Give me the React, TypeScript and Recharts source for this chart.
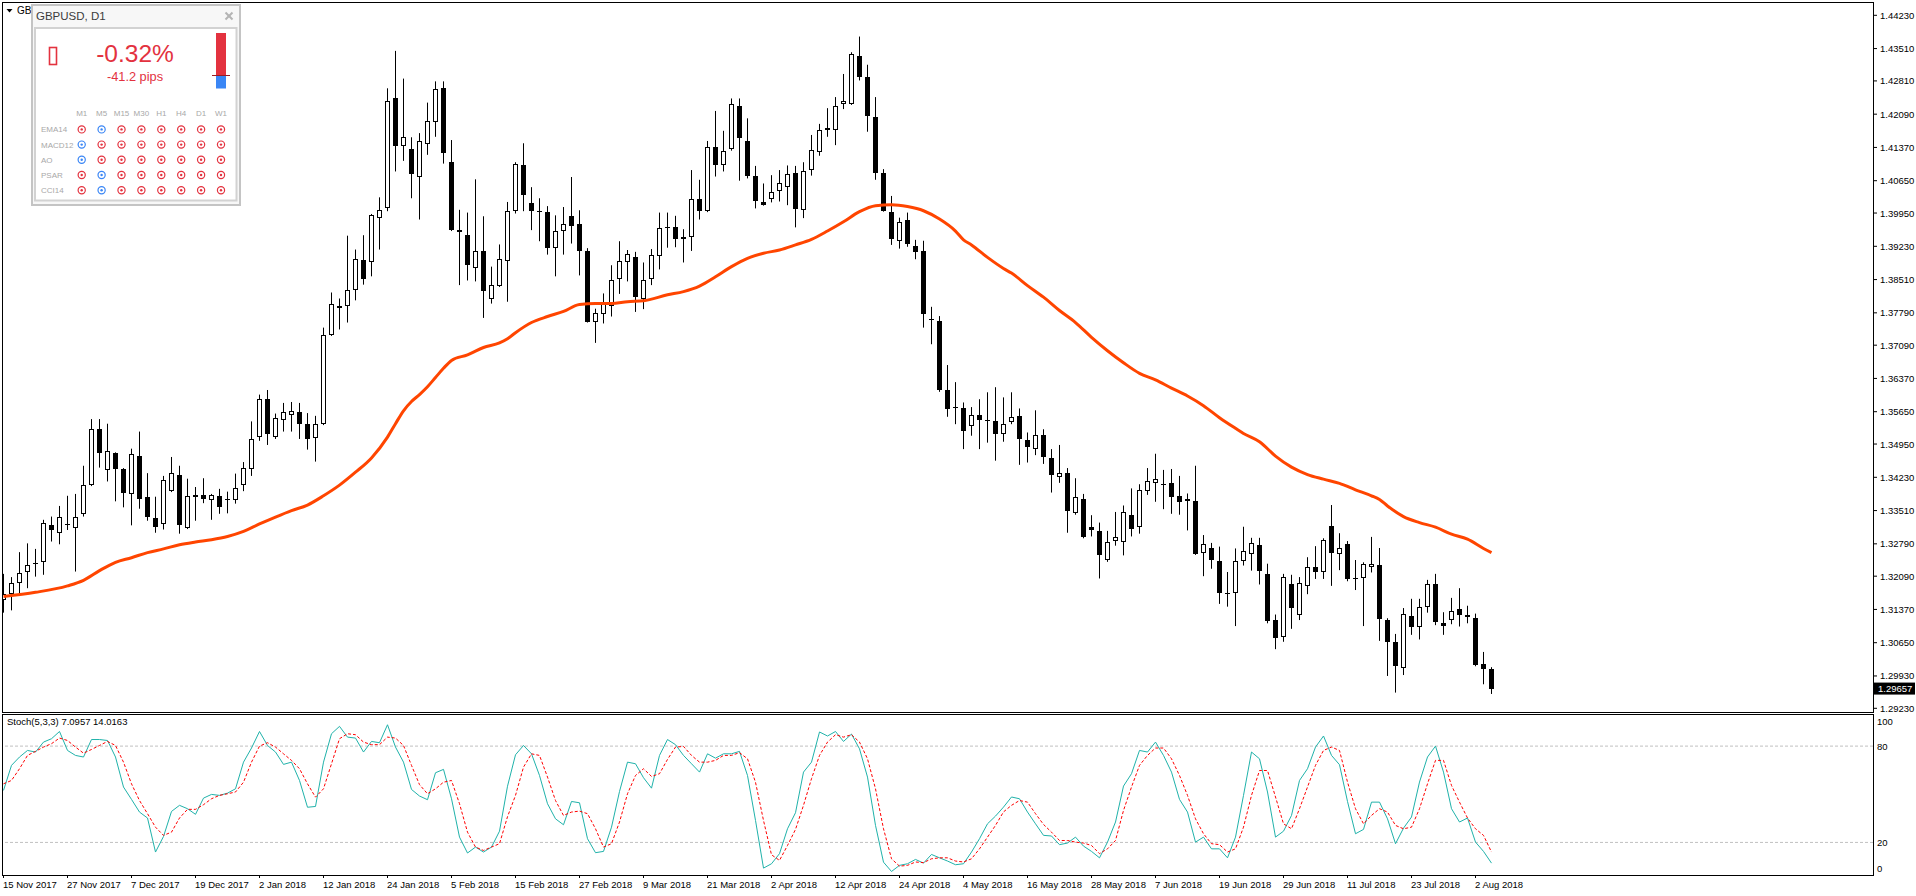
import React from "react";
import {
  ComposedChart,
  LineChart,
  Bar,
  Line,
  XAxis,
  YAxis,
  ReferenceLine,
} from "recharts";

const W = 1916;
const FONT = "Tahoma, 'Liberation Sans', Arial, sans-serif";
const X_MIN = -0.1875;
const X_MAX = 233.6875;

/* ─── data ──────────────────────────────────────────────────── */

const dateLabels = [
  "15 Nov 2017", "27 Nov 2017", "7 Dec 2017", "19 Dec 2017", "2 Jan 2018",
  "12 Jan 2018", "24 Jan 2018", "5 Feb 2018", "15 Feb 2018", "27 Feb 2018",
  "9 Mar 2018", "21 Mar 2018", "2 Apr 2018", "12 Apr 2018", "24 Apr 2018",
  "4 May 2018", "16 May 2018", "28 May 2018", "7 Jun 2018", "19 Jun 2018",
  "29 Jun 2018", "11 Jul 2018", "23 Jul 2018", "2 Aug 2018",
];
const dateBars = dateLabels.map((_, k) => k * 8);

const opens = [
  1.3158, 1.3171, 1.3194, 1.3219, 1.3236, 1.3239, 1.3319, 1.3302, 1.3322, 1.3313,
  1.3344, 1.3406, 1.3527, 1.3439, 1.3475, 1.3441, 1.3387, 1.347, 1.3381, 1.3335,
  1.3322, 1.3393, 1.3428, 1.3313, 1.3384, 1.3384, 1.3374, 1.3382, 1.3376, 1.3374,
  1.3406, 1.3442, 1.3511, 1.3592, 1.3511, 1.3548, 1.3558, 1.3564, 1.3538, 1.3508,
  1.3538, 1.3731, 1.3793, 1.3794, 1.3829, 1.3893, 1.3889, 1.3984, 1.4005, 1.4243,
  1.4141, 1.4133, 1.4074, 1.4145, 1.4191, 1.4266, 1.4105, 1.3958, 1.3947, 1.3875,
  1.3913, 1.381, 1.3838, 1.3892, 1.3999, 1.4098, 1.4016, 1.4, 1.3997, 1.3919,
  1.3956, 1.3988, 1.3971, 1.3912, 1.376, 1.3777, 1.3793, 1.3852, 1.389, 1.3899,
  1.3808, 1.3852, 1.3903, 1.3965, 1.3964, 1.3939, 1.3943, 1.4025, 1.4, 1.4137,
  1.4098, 1.4133, 1.4227, 1.4151, 1.4075, 1.4018, 1.4025, 1.4043, 1.4052, 1.4081,
  1.4002, 1.4088, 1.4127, 1.4175, 1.4175, 1.4231, 1.4231, 1.4335, 1.4289, 1.4202,
  1.4081, 1.3997, 1.3935, 1.398, 1.3924, 1.3913, 1.3765, 1.3761, 1.3613, 1.3575,
  1.3572, 1.3533, 1.3557, 1.3546, 1.3544, 1.3516, 1.3542, 1.3556, 1.3504, 1.3484,
  1.3514, 1.3464, 1.3423, 1.3432, 1.3345, 1.3375, 1.3315, 1.3307, 1.3243, 1.3285,
  1.3284, 1.3341, 1.3316, 1.3393, 1.341, 1.3409, 1.341, 1.3382, 1.3372, 1.3372,
  1.326, 1.3269, 1.3242, 1.3173, 1.3172, 1.3242, 1.3256, 1.3277, 1.3214, 1.3114,
  1.3077, 1.3192, 1.3126, 1.3188, 1.3228, 1.3218, 1.3318, 1.3257, 1.3278, 1.3204,
  1.3204, 1.3228, 1.3233, 1.3114, 1.3066, 1.301, 1.3123, 1.3098, 1.3142, 1.3191,
  1.3107, 1.3114, 1.3137, 1.3121, 1.3119, 1.3019, 1.3008,
];

const highs = [
  1.3214, 1.3207, 1.3261, 1.328, 1.3268, 1.3331, 1.3338, 1.3361, 1.3383, 1.3387,
  1.3448, 1.3549, 1.3549, 1.3539, 1.3477, 1.3443, 1.3485, 1.3522, 1.3432, 1.3381,
  1.3426, 1.3467, 1.3448, 1.342, 1.3402, 1.3421, 1.3387, 1.3398, 1.3392, 1.3431,
  1.3456, 1.3544, 1.3602, 1.3612, 1.3561, 1.3584, 1.3586, 1.3584, 1.3562, 1.3556,
  1.3747, 1.3823, 1.381, 1.3946, 1.3916, 1.3947, 1.3993, 1.4029, 1.4265, 1.4346,
  1.4286, 1.4159, 1.4168, 1.4234, 1.428, 1.428, 1.4153, 1.4002, 1.3996, 1.4068,
  1.3988, 1.3879, 1.3927, 1.4019, 1.4105, 1.4146, 1.4051, 1.4027, 1.401, 1.399,
  1.4008, 1.4073, 1.4001, 1.3919, 1.3788, 1.3821, 1.3882, 1.3934, 1.3915, 1.3911,
  1.3888, 1.3917, 1.3996, 1.3996, 1.3989, 1.396, 1.4088, 1.4067, 1.4151, 1.4216,
  1.4173, 1.4243, 1.4243, 1.42, 1.4097, 1.4059, 1.4077, 1.4088, 1.4098, 1.4097,
  1.4105, 1.4164, 1.4188, 1.4222, 1.4246, 1.4296, 1.4343, 1.4377, 1.4316, 1.4246,
  1.409, 1.4032, 1.3985, 1.3996, 1.3937, 1.3935, 1.3792, 1.3772, 1.3666, 1.3629,
  1.3585, 1.3575, 1.3592, 1.3607, 1.3618, 1.3596, 1.3607, 1.3572, 1.352, 1.3568,
  1.3527, 1.3484, 1.3493, 1.3443, 1.3421, 1.3387, 1.3341, 1.3325, 1.3307, 1.3348,
  1.3362, 1.3399, 1.3408, 1.3443, 1.3474, 1.3439, 1.3441, 1.3426, 1.3388, 1.3448,
  1.3298, 1.3281, 1.3273, 1.3218, 1.3269, 1.3316, 1.3292, 1.3292, 1.3236, 1.3126,
  1.3214, 1.3212, 1.3207, 1.325, 1.3274, 1.3291, 1.3363, 1.3302, 1.3285, 1.3244,
  1.3239, 1.3294, 1.327, 1.3118, 1.3084, 1.314, 1.316, 1.316, 1.3201, 1.3214,
  1.3131, 1.3162, 1.3183, 1.3145, 1.3128, 1.3045, 1.3012,
];

const lows = [
  1.313, 1.3135, 1.3171, 1.3183, 1.3208, 1.3212, 1.3284, 1.3278, 1.3309, 1.3219,
  1.3338, 1.3404, 1.3444, 1.3414, 1.3371, 1.3358, 1.3319, 1.3355, 1.3329, 1.3303,
  1.331, 1.3391, 1.3301, 1.3311, 1.3329, 1.3367, 1.3331, 1.3344, 1.3345, 1.3366,
  1.3393, 1.3426, 1.3502, 1.3493, 1.3506, 1.3522, 1.3522, 1.3506, 1.3483, 1.3457,
  1.3536, 1.3729, 1.3743, 1.3758, 1.3806, 1.384, 1.3858, 1.3916, 1.3999, 1.4085,
  1.4108, 1.4027, 1.3981, 1.4121, 1.416, 1.4102, 1.3956, 1.3839, 1.3849, 1.3847,
  1.3768, 1.3799, 1.3835, 1.3803, 1.3994, 1.3999, 1.3958, 1.3934, 1.3905, 1.3858,
  1.3905, 1.3929, 1.386, 1.3758, 1.3714, 1.3756, 1.3771, 1.382, 1.3847, 1.3781,
  1.3787, 1.3839, 1.3873, 1.392, 1.3921, 1.3888, 1.3913, 1.3981, 1.3997, 1.4074,
  1.4085, 1.413, 1.4065, 1.407, 1.4005, 1.4011, 1.4018, 1.402, 1.4012, 1.3964,
  1.3984, 1.4076, 1.4119, 1.416, 1.4142, 1.422, 1.4229, 1.4282, 1.4171, 1.4067,
  1.3998, 1.3926, 1.3918, 1.3922, 1.3895, 1.3747, 1.3711, 1.3608, 1.3554, 1.3538,
  1.3484, 1.3513, 1.3484, 1.3498, 1.3459, 1.35, 1.3538, 1.345, 1.3455, 1.3471,
  1.3452, 1.339, 1.3411, 1.3303, 1.3342, 1.3291, 1.3295, 1.3204, 1.324, 1.3275,
  1.3254, 1.3295, 1.3301, 1.3385, 1.337, 1.3354, 1.3344, 1.3342, 1.3308, 1.3255,
  1.3209, 1.3225, 1.3149, 1.3143, 1.3101, 1.3232, 1.3221, 1.3191, 1.3107, 1.3051,
  1.3067, 1.3095, 1.3114, 1.317, 1.3203, 1.3203, 1.3188, 1.3222, 1.3198, 1.3179,
  1.3101, 1.3217, 1.3069, 1.2993, 1.2957, 1.2995, 1.3082, 1.3072, 1.313, 1.3103,
  1.3082, 1.3105, 1.31, 1.3107, 1.3014, 1.2975, 1.2954,
];

const closes = [
  1.3171, 1.3194, 1.3215, 1.3233, 1.3238, 1.3324, 1.3308, 1.3337, 1.3319, 1.3338,
  1.3406, 1.3527, 1.3475, 1.348, 1.3442, 1.339, 1.3473, 1.3377, 1.3338, 1.3316,
  1.3417, 1.3432, 1.3319, 1.3382, 1.3381, 1.3375, 1.3384, 1.3358, 1.3374, 1.34,
  1.3443, 1.3506, 1.3592, 1.3516, 1.3551, 1.3564, 1.3566, 1.3538, 1.3506, 1.3538,
  1.3731, 1.3799, 1.379, 1.3829, 1.3895, 1.3852, 1.399, 1.4001, 1.4237, 1.414,
  1.4159, 1.4079, 1.415, 1.4194, 1.4264, 1.4124, 1.3958, 1.3953, 1.3883, 1.3913,
  1.3826, 1.384, 1.3895, 1.3999, 1.4101, 1.4033, 1.3999, 1.3998, 1.3919, 1.3956,
  1.3971, 1.3968, 1.3913, 1.376, 1.3779, 1.38, 1.3851, 1.3892, 1.3907, 1.3814,
  1.385, 1.3904, 1.3962, 1.3963, 1.3938, 1.3943, 1.4025, 1.4, 1.4137, 1.41,
  1.413, 1.423, 1.4158, 1.4076, 1.402, 1.4013, 1.4041, 1.4059, 1.4079, 1.4003,
  1.4087, 1.4132, 1.4175, 1.4179, 1.4227, 1.4238, 1.4339, 1.429, 1.4204, 1.4081,
  1.4, 1.3938, 1.3976, 1.3929, 1.3911, 1.3776, 1.3764, 1.3612, 1.357, 1.3572,
  1.3524, 1.3557, 1.3546, 1.3544, 1.3516, 1.3538, 1.3554, 1.3506, 1.3489, 1.3514,
  1.3468, 1.3428, 1.3432, 1.3349, 1.338, 1.3293, 1.3308, 1.3254, 1.3282, 1.3293,
  1.3347, 1.3312, 1.3396, 1.3414, 1.3419, 1.3407, 1.3381, 1.337, 1.3376, 1.3257,
  1.3279, 1.3244, 1.3173, 1.3171, 1.3242, 1.3263, 1.328, 1.3221, 1.3113, 1.3076,
  1.3207, 1.3141, 1.3194, 1.3228, 1.3219, 1.3287, 1.3259, 1.3271, 1.3203, 1.3202,
  1.3235, 1.3235, 1.3116, 1.3067, 1.3015, 1.3127, 1.3098, 1.3143, 1.3191, 1.3109,
  1.3102, 1.3134, 1.3124, 1.3125, 1.3016, 1.3007, 1.29657,
];

// moving average, read at these bar positions
const maBars = [
  0, 4, 8, 10, 12, 14, 16, 18, 20, 22, 24, 26, 28, 30, 32, 34, 36, 38, 40, 42,
  44, 46, 48, 49, 50, 51, 52, 53, 54, 55, 56, 58, 60, 62, 63, 64, 66, 68, 70, 72,
  74, 76, 78, 80, 83, 85, 87, 89, 91, 93, 95, 97, 99, 101, 103, 105, 107, 109, 111, 113,
  115, 117, 119, 120, 121, 123, 125, 126, 128, 130, 132, 134, 136, 138, 140, 142, 144, 146, 148, 150,
  152, 154, 155, 157, 159, 161, 163, 165, 167, 169, 171, 172, 173, 175, 177, 179, 181, 183, 185, 186,
];
const maValues = [
  1.3165, 1.3174, 1.3188, 1.32, 1.3221, 1.3239, 1.3249, 1.326, 1.3268, 1.3277,
  1.3283, 1.3288, 1.3295, 1.3306, 1.3322, 1.3337, 1.3351, 1.3363, 1.3383, 1.3406,
  1.3434, 1.3465, 1.351, 1.3539, 1.3567, 1.3587, 1.3602, 1.3619, 1.3639, 1.3659,
  1.3676, 1.3688, 1.3704, 1.3714, 1.3723, 1.3736, 1.3758, 1.3771, 1.3782, 1.3797,
  1.3799, 1.3799, 1.3803, 1.3805, 1.3818, 1.3825, 1.3837, 1.3857, 1.3879, 1.3897,
  1.3908, 1.3915, 1.3926, 1.3938, 1.3956, 1.3976, 1.3998, 1.4011, 1.4013, 1.4009,
  1.4, 1.3982, 1.3956, 1.3937, 1.3926, 1.3899, 1.3875, 1.3865, 1.3838, 1.3813,
  1.3784, 1.3758, 1.3726, 1.3697, 1.3671, 1.3648, 1.3634, 1.3616, 1.3599, 1.3578,
  1.3552, 1.3529, 1.3518, 1.35, 1.3469, 1.3445, 1.3429, 1.3419, 1.341, 1.3396,
  1.3383, 1.3375, 1.3361, 1.3338, 1.3325, 1.3315, 1.33, 1.3289, 1.3269, 1.326,
];

const stochK = [
  52.4, 68, 73.2, 77.3, 76.3, 82.5, 84.6, 89.1, 77.3, 74.2,
  73.2, 84.1, 84.1, 83.5, 73.2, 54.5, 46.8, 38.9, 35.2, 14,
  23.7, 39.3, 43.1, 41, 37.5, 47.6, 49.9, 49.3, 50.7, 53.4,
  70, 78.8, 89.1, 80.4, 76.3, 68.6, 70, 58.6, 41.9, 42.4,
  70, 87.7, 92.3, 85.6, 85, 76.3, 82.9, 82.1, 93.3, 79.4,
  70, 53, 48.9, 46.6, 63.4, 65.5, 47.2, 23.3, 13.4, 17.1,
  14, 17.1, 27, 55, 74.6, 80.4, 75.2, 61.7, 44.1, 34.7,
  31, 45.5, 44.7, 22.3, 13.6, 14.4, 29.5, 51.7, 70, 69,
  60.3, 53.8, 74.2, 84.1, 80.9, 74.2, 69, 63.8, 75.2, 72.5,
  75.2, 75.2, 76.7, 61.7, 33.7, 4, 6.7, 13, 28.5, 38.5,
  63.8, 70, 88.8, 86.3, 89.1, 82.9, 87.5, 78.3, 60.7, 30.6,
  7.7, 1.9, 5.7, 6.7, 9.4, 7.1, 12.5, 10.4, 8.4, 6.1,
  6.7, 14, 22.3, 31.6, 36.4, 42, 48.3, 47.2, 38.9, 31.6,
  24.4, 24, 18.6, 19.6, 23.3, 17.7, 14.4, 10.4, 20.2, 32.7,
  55.1, 62.8, 77.3, 76.3, 82.5, 74.2, 63.8, 46.8, 38.9, 20.2,
  23.3, 16, 16, 10.4, 23.3, 49.3, 76.3, 72.1, 51.4, 23.3,
  27, 36.8, 58.6, 65.9, 79.4, 86.3, 74.2, 68.4, 45.5, 25.4,
  28.1, 45.1, 45.1, 34.7, 19.2, 28.9, 35.8, 57.6, 73.2, 80,
  63.8, 41, 32.7, 35.2, 20.2, 14.4, 7.0957,
];

const stochD = [
  56.5, 58.6, 65.9, 74.2, 76.7, 79.4, 81.5, 85, 83.5, 79.4,
  75.6, 77.9, 80.4, 82.9, 80.4, 70, 56.5, 46.1, 37.9, 29.5,
  24.4, 26.4, 35.2, 40.6, 40.6, 43.5, 47.2, 49.3, 50.3, 51.4,
  57.5, 70, 80, 82.1, 79.4, 75.2, 71.1, 65.9, 56.5, 48.2,
  53.4, 69, 84.6, 87.7, 87.1, 82.5, 80.9, 80.9, 85.6, 85,
  80.4, 68, 56, 50.3, 53.4, 57.5, 58.6, 44.1, 26.4, 17.1,
  15, 17.1, 19.2, 36, 49.3, 66.9, 75.2, 74.2, 60.7, 46.1,
  36.8, 38.9, 39.5, 37.9, 28.5, 17.1, 19.2, 32.7, 50.3, 61.7,
  65.9, 61.1, 62.8, 71.7, 79.4, 79.8, 74.2, 70, 70, 71.1,
  74.2, 74.2, 75.9, 72.1, 57.5, 33.7, 12.3, 8.8, 18.1, 28.1,
  43.1, 59.7, 74.2, 82.5, 87.1, 85.6, 87.1, 82.5, 72.1, 53.4,
  28.5, 9.8, 5.2, 5.7, 7.8, 7.4, 9.8, 10.4, 10.4, 8.4,
  7.8, 9.8, 16, 23.3, 30.6, 39, 43.1, 46.1, 45.1, 37.9,
  31.2, 26.4, 21.2, 21.2, 20.2, 19.6, 18.1, 13, 16, 21.2,
  39.9, 54.5, 68, 74.2, 78.8, 78.8, 72.1, 61.7, 49.3, 34.7,
  25.4, 19.2, 18.6, 14, 16, 29.5, 49.3, 64.8, 64.8, 48.3,
  31.6, 28.5, 41, 54.5, 68, 77.3, 79.4, 77.3, 57.6, 41,
  31.6, 36.8, 41, 38.9, 30.6, 28.5, 29.5, 41, 56.5, 71.1,
  71.1, 55.5, 45.1, 35.2, 28.5, 24.4, 14.0163,
];

const priceTicks = [
  1.4423, 1.4351, 1.4281, 1.4209, 1.4137, 1.4065, 1.3995, 1.3923, 1.3851, 1.3779,
  1.3709, 1.3637, 1.3565, 1.3495, 1.3423, 1.3351, 1.3279, 1.3209, 1.3137, 1.3065,
  1.2993, 1.2923,
];
const stochTicks = [100, 80, 20, 0];
const stochLevels = [80, 20];

const signalRows = ["EMA14", "MACD12", "AO", "PSAR", "CCI14"];
const signalCols = ["M1", "M5", "M15", "M30", "H1", "H4", "D1", "W1"];
// 1 = blue (up), 0 = red (down)
const signalUp = [
  [0, 1, 0, 0, 0, 0, 0, 0],
  [1, 0, 0, 0, 0, 0, 0, 0],
  [1, 0, 0, 0, 0, 0, 0, 0],
  [0, 1, 0, 0, 0, 0, 0, 0],
  [0, 1, 0, 0, 0, 0, 0, 0],
];

/* ─── derived tables ────────────────────────────────────────── */

const lastClose = closes[closes.length - 1];
const candles = opens.map((o, i) => ({
  i,
  o,
  h: highs[i],
  l: lows[i],
  c: closes[i],
  range: [lows[i], highs[i]],
}));
const maData = maBars.map((i, k) => ({ i, v: maValues[k] }));
const stochData = stochK.map((k, i) => ({ i, k, d: stochD[i] }));

/* ─── shapes & ticks ────────────────────────────────────────── */

function Candle(props: any) {
  const { x, y, width, height } = props;
  const p = props.payload ?? props;
  if (x == null || y == null || !height) return null;
  const { o, h, l, c } = p;
  const cx = Math.floor(x + width / 2) + 0.5;
  const k = height / (h - l);
  const yOf = (v: number) => y + (h - v) * k;
  const top = Math.round(yOf(Math.max(o, c)));
  const bot = Math.round(yOf(Math.min(o, c)));
  const bull = c >= o;
  return (
    <g>
      <line x1={cx} x2={cx} y1={y} y2={y + height} stroke="#000" strokeWidth={1} />
      {bot - top <= 1 ? (
        <line x1={cx - 2.5} x2={cx + 2.5} y1={top + 0.5} y2={top + 0.5} stroke="#000" />
      ) : (
        <rect
          x={cx - 2}
          y={top + 0.5}
          width={4}
          height={bot - top - 1}
          fill={bull ? "#fff" : "#000"}
          stroke="#000"
          strokeWidth={1}
        />
      )}
    </g>
  );
}

function PriceTick(props: any) {
  const { x, y, payload } = props;
  const v = payload.value as number;
  if (v === lastClose) {
    return (
      <g>
        <rect x={x + 1} y={y - 6} width={41} height={12} fill="#000" />
        <text x={x + 5} y={y + 3.5} fontSize={9.5} fontFamily={FONT} fill="#fff">
          {v.toFixed(5)}
        </text>
      </g>
    );
  }
  return (
    <g>
      <line x1={x} x2={x + 4} y1={y} y2={y} stroke="#000" />
      <text x={x + 7} y={y + 3.5} fontSize={9.5} fontFamily={FONT} fill="#000">
        {v.toFixed(5)}
      </text>
    </g>
  );
}

function StochTick(props: any) {
  const { x, y, payload } = props;
  const ty = Math.min(Math.max(y, 9), 156);
  return (
    <text x={x + 4} y={ty + 3.5} fontSize={9.5} fontFamily={FONT} fill="#000">
      {payload.value}
    </text>
  );
}

function DateTick(props: any) {
  const { x, y, payload } = props;
  const idx = dateBars.indexOf(payload.value);
  return (
    <g>
      <line x1={x} x2={x} y1={y} y2={y + 3} stroke="#000" />
      <text x={x - 0.5} y={y + 13} fontSize={9.5} fontFamily={FONT} fill="#000">
        {dateLabels[idx]}
      </text>
    </g>
  );
}

/* ─── signal panel (top left) ───────────────────────────────── */

function SignalPanel() {
  const red = "#e3323f";
  const blue = "#3a86f5";
  return (
    <svg width={250} height={212} style={{ position: "absolute", left: 0, top: 0 }}>
      <polygon points="6.5,9 12.5,9 9.5,12.5" fill="#000" />
      {/* symbol caption, the rest of it sits behind the panel */}
      <text x={17} y={14} fontSize={10} fontFamily={FONT} fill="#000">
        GB
      </text>
      <rect x={32} y={5} width={208} height={200} fill="#f7f7f7" stroke="#c4c4c4" strokeWidth={2} />
      <text x={36} y={20} fontSize={11.5} fontFamily={FONT} fill="#3c3c3c">
        GBPUSD, D1
      </text>
      <line x1={225.5} y1={12.5} x2={232.5} y2={19.5} stroke="#b4b4b4" strokeWidth={2} />
      <line x1={232.5} y1={12.5} x2={225.5} y2={19.5} stroke="#b4b4b4" strokeWidth={2} />
      <rect x={35} y={28} width={201.5} height={172.5} fill="#fff" stroke="#d2d2d2" strokeWidth={2} />
      <rect x={49.5} y={47.5} width={7} height={17} fill="none" stroke={red} strokeWidth={1.6} />
      <text x={135} y={62} fontSize={24.5} fontFamily={FONT} fill={red} textAnchor="middle">
        -0.32%
      </text>
      <text x={135} y={81} fontSize={12.8} fontFamily={FONT} fill={red} textAnchor="middle">
        -41.2 pips
      </text>
      <rect x={216} y={33} width={10} height={42.5} fill={red} />
      <rect x={216} y={75.5} width={10} height={13} fill={blue} />
      <line x1={212} x2={230} y1={75.5} y2={75.5} stroke="#9a1c22" strokeWidth={1} />
      {signalCols.map((col, j) => (
        <text
          key={col}
          x={81.7 + j * 19.9}
          y={116}
          fontSize={8}
          fontFamily={FONT}
          fill="#a8a8a8"
          textAnchor="middle"
        >
          {col}
        </text>
      ))}
      {signalRows.map((row, r) => (
        <g key={row}>
          <text x={41} y={132.3 + r * 15.2} fontSize={8} fontFamily={FONT} fill="#a8a8a8">
            {row}
          </text>
          {signalCols.map((col, j) => {
            const clr = signalUp[r][j] ? blue : red;
            const cx = 81.7 + j * 19.9;
            const cy = 129.4 + r * 15.2;
            return (
              <g key={col}>
                <circle cx={cx} cy={cy} r={3.6} fill="none" stroke={clr} strokeWidth={1.2} />
                <circle cx={cx} cy={cy} r={1.2} fill={clr} />
              </g>
            );
          })}
        </g>
      ))}
    </svg>
  );
}

/* ─── app ───────────────────────────────────────────────────── */

export default function App() {
  return (
    <div
      style={{
        position: "absolute",
        left: 0,
        top: 0,
        width: W,
        height: 896,
        background: "#fff",
        overflow: "hidden",
      }}
    >
      <div style={{ position: "absolute", left: 0, top: 0 }}>
        <ComposedChart
          width={W}
          height={714}
          data={candles}
          margin={{ top: 2, right: 2, bottom: 2, left: 2 }}
        >
          <XAxis dataKey="i" type="number" domain={[X_MIN, X_MAX]} allowDataOverflow hide />
          <YAxis
            orientation="right"
            width={41}
            domain={[1.2915, 1.44518]}
            allowDataOverflow
            ticks={[...priceTicks, lastClose]}
            interval={0}
            tickSize={0}
            tickMargin={0}
            axisLine={false}
            tickLine={false}
            tick={(p: any) => <PriceTick {...p} />}
          />
          <Bar
            dataKey="range"
            barSize={5}
            isAnimationActive={false}
            shape={(p: any) => <Candle {...p} />}
          />
          <Line
            data={maData}
            dataKey="v"
            type="monotone"
            stroke="#ff4500"
            strokeWidth={3}
            dot={false}
            activeDot={false}
            isAnimationActive={false}
          />
        </ComposedChart>
      </div>

      <div style={{ position: "absolute", left: 0, top: 712 }}>
        <LineChart
          width={W}
          height={184}
          data={stochData}
          margin={{ top: 2, right: 2, bottom: 0, left: 2 }}
        >
          <XAxis
            dataKey="i"
            type="number"
            domain={[X_MIN, X_MAX]}
            allowDataOverflow
            ticks={dateBars}
            interval={0}
            height={21}
            tickSize={0}
            tickMargin={0}
            axisLine={false}
            tickLine={false}
            tick={(p: any) => <DateTick {...p} />}
          />
          <YAxis
            orientation="right"
            width={41}
            domain={[-0.3, 100]}
            allowDataOverflow
            ticks={stochTicks}
            interval={0}
            tickSize={0}
            tickMargin={0}
            axisLine={false}
            tickLine={false}
            tick={(p: any) => <StochTick {...p} />}
          />
          {stochLevels.map((lv) => (
            <ReferenceLine key={lv} y={lv} stroke="#c0c0c0" strokeDasharray="3 2" />
          ))}
          <Line
            dataKey="k"
            type="linear"
            stroke="#20b2aa"
            strokeWidth={1}
            dot={false}
            activeDot={false}
            isAnimationActive={false}
          />
          <Line
            dataKey="d"
            type="linear"
            stroke="#ff0000"
            strokeWidth={1}
            strokeDasharray="3 2"
            dot={false}
            activeDot={false}
            isAnimationActive={false}
          />
        </LineChart>
      </div>

      {/* panel frames */}
      <div
        style={{
          position: "absolute",
          left: 2,
          top: 2,
          width: 1872,
          height: 711,
          border: "1px solid #000",
          boxSizing: "border-box",
          pointerEvents: "none",
        }}
      />
      <div
        style={{
          position: "absolute",
          left: 2,
          top: 714,
          width: 1872,
          height: 162,
          border: "1px solid #000",
          boxSizing: "border-box",
          pointerEvents: "none",
        }}
      />
      <div
        style={{
          position: "absolute",
          left: 7,
          top: 716,
          fontSize: 9.5,
          fontFamily: FONT,
          color: "#000",
          whiteSpace: "nowrap",
        }}
      >
        Stoch(5,3,3) 7.0957 14.0163
      </div>

      <SignalPanel />
    </div>
  );
}
